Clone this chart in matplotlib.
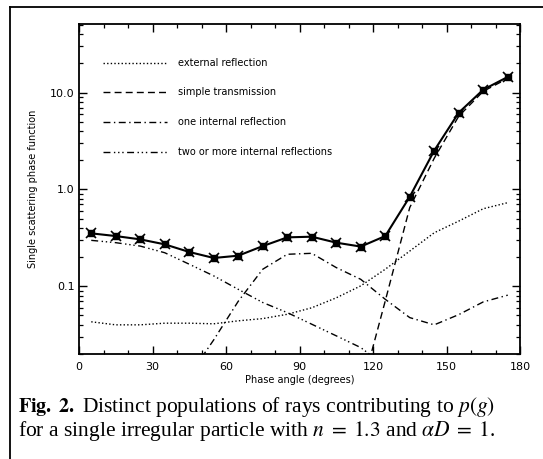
import numpy as np
import matplotlib
matplotlib.use('Agg')
import matplotlib.pyplot as plt
from matplotlib.ticker import FixedLocator, NullFormatter, FixedFormatter, LogLocator

# phase angles of the computed bins
angle = [5, 15, 25, 35, 45, 55, 65, 75, 85, 95, 105, 115, 125, 135, 145, 155, 165, 175]

total = [0.352, 0.330, 0.305, 0.271, 0.226, 0.196, 0.207, 0.260, 0.320,
         0.325, 0.282, 0.257, 0.330, 0.84, 2.52, 6.2, 10.7, 14.5]
external = [0.043, 0.040, 0.040, 0.0416, 0.0416, 0.041, 0.044, 0.0464, 0.0514,
            0.060, 0.076, 0.101, 0.150, 0.231, 0.357, 0.471, 0.632, 0.73]
transmission = [1e-4, 1e-4, 1e-4, 1e-4, 1e-4, 1e-4, 1e-4, 1e-4, 1e-4,
                1e-4, 1e-4, 0.008, 0.0706, 0.65, 2.1, 5.7, 10.3, 14.0]
one_internal = [1e-4, 1e-4, 1e-4, 1e-4, 0.012, 0.028, 0.07, 0.15, 0.214,
                0.219, 0.156, 0.118, 0.0734, 0.0475, 0.040, 0.051, 0.069, 0.081]
multi_internal = [0.298, 0.282, 0.26, 0.222, 0.169, 0.128, 0.093, 0.068, 0.0535,
                  0.0406, 0.0308, 0.0233, 0.015, 0.008, 0.005, 0.004, 0.003, 0.003]

legend_labels = ['external reflection', 'simple transmission',
                 'one internal reflection', 'two or more internal reflections']

W, H = 543, 459
plt.rcParams['mathtext.fontset'] = 'stix'
fig = plt.figure(figsize=(W / 100, H / 100), dpi=100)

# frame around the figure (only left and top visible in the scan)
fig.add_artist(plt.Line2D([9.5 / W, 9.5 / W], [0, 1 - 7 / H], color='black', lw=1.3,
                          transform=fig.transFigure))
fig.add_artist(plt.Line2D([9.5 / W, 1], [1 - 7 / H, 1 - 7 / H], color='black', lw=1.3,
                          transform=fig.transFigure))

ax = fig.add_axes([79 / W, 1 - 354 / H, (520 - 79) / W, (354 - 24) / H])
ax.set_yscale('log')

styles = [(0, (1, 1.6)), (0, (5, 3)), (0, (5, 2.5, 1, 2.5)), (0, (5, 2.5, 1, 2, 1, 2, 1, 2.5))]
series = [external, transmission, one_internal, multi_internal]
for vals, ls in zip(series, styles):
    ax.plot(angle, vals, color='black', lw=1.0, ls=ls)

ax.plot(angle, total, color='black', lw=1.5, marker='s', ms=4.5, mfc='black', mec='black')
ax.plot(angle, total, color='none', lw=0, marker='x', ms=7, mec='black', mew=1.2)

ax.set_xlim(0, 180)
ax.set_ylim(0.02, 51)

ax.xaxis.set_major_locator(FixedLocator([0, 30, 60, 90, 120, 150, 180]))
ax.xaxis.set_minor_locator(FixedLocator(list(range(0, 181, 10))))
ax.yaxis.set_major_locator(FixedLocator([0.1, 1.0, 10.0]))
ax.yaxis.set_major_formatter(FixedFormatter(['0.1', '1.0', '10.0']))
ax.yaxis.set_minor_locator(LogLocator(base=10, subs=np.arange(2, 10)))
ax.yaxis.set_minor_formatter(NullFormatter())

ax.tick_params(which='both', direction='in', top=True, right=True, labelsize=8)
ax.tick_params(axis='y', pad=3)
ax.tick_params(axis='x', pad=6)
ax.tick_params(which='major', length=6, width=1)
ax.tick_params(which='minor', length=3, width=0.9)
for s in ax.spines.values():
    s.set_linewidth(1.3)

ax.set_xlabel('Phase angle (degrees)', fontsize=7, labelpad=2)
ax.set_ylabel('Single scattering phase function', fontsize=7, labelpad=9)

# legend drawn in axes coordinates as in the original
leg_y = [62.7, 91.7, 121.7, 151.7]
for lab, ls, yy in zip(legend_labels, styles, leg_y):
    yf = (354 - yy) / (354 - 24)
    ax.plot([(103 - 79) / 441, (167 - 79) / 441], [yf, yf], color='black', lw=1.0, ls=ls,
            transform=ax.transAxes)
    ax.text((178 - 79) / 441, yf, lab, fontsize=7, va='center', ha='left',
            transform=ax.transAxes)

fig.text(18 / W, 1 - 407 / H, r'$\mathbf{Fig.\ 2.}$', fontsize=14.5, va='center', ha='left',
         family='Liberation Serif')
fig.text(82 / W, 1 - 407 / H, r'Distinct populations of rays contributing to $p(g)$',
         fontsize=15.5, va='center', ha='left', family='Liberation Serif')
fig.text(18 / W, 1 - 431 / H,
         r'for a single irregular particle with $n\;=\;1.3$ and $\alpha D\;=\;1$.',
         fontsize=15.5, va='center', ha='left', family='Liberation Serif')

fig.savefig('out.png', dpi=100)
